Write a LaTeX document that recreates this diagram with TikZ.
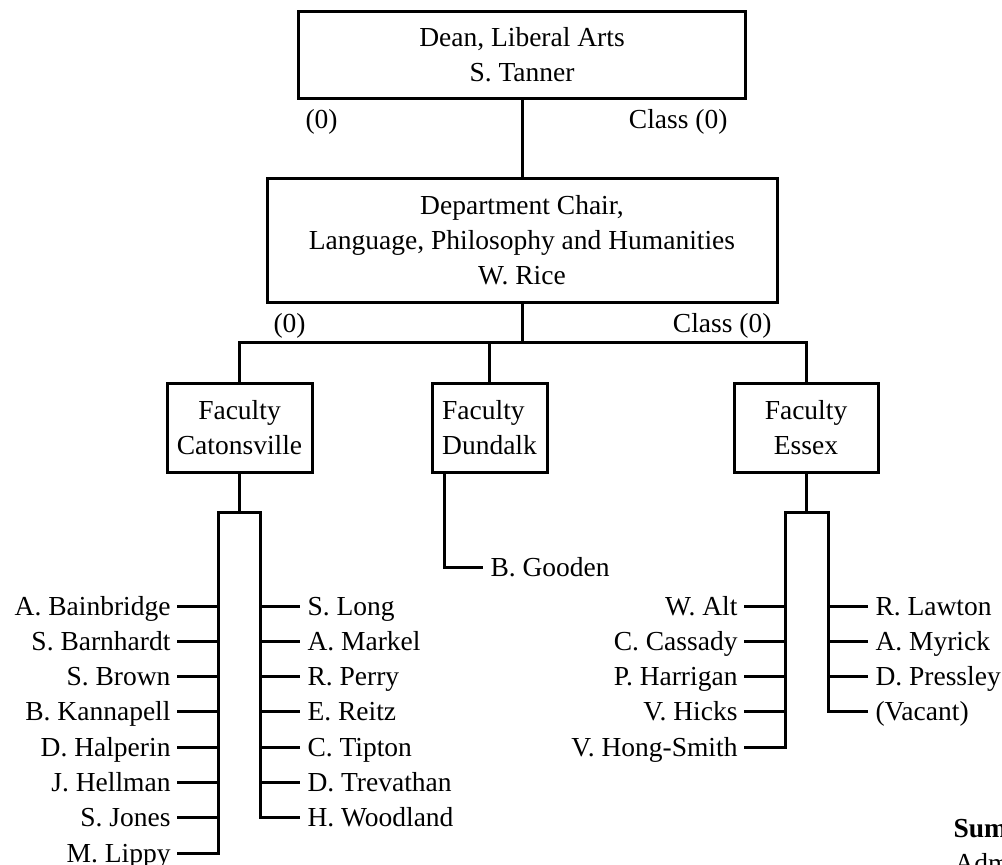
\documentclass[tikz,border=0pt]{standalone}
\usepackage{fontspec}
\setmainfont{Liberation Serif}
\begin{document}
\begin{tikzpicture}[x=1pt,y=-1pt, line width=3pt,
  every node/.style={font=\fontsize{27.5}{35}\selectfont},
  box/.style={draw, line width=3pt, inner sep=0pt, align=center},
  lname/.style={anchor=base east, inner xsep=5pt, inner ysep=0pt, yshift=-9pt},
  rname/.style={anchor=base west, inner xsep=6pt, inner ysep=0pt, yshift=-9pt},
  lbl/.style={inner sep=0pt}
]
\useasboundingbox (0,0) rectangle (1002,865);

% boxes
\node[box, minimum width=447pt, minimum height=87pt] (dean) at (522,54.5) {Dean, Liberal Arts\\S. Tanner};
\node[box, minimum width=510pt, minimum height=124pt] (dept) at (522,240) {Department Chair,\\Language, Philosophy and Humanities\\W. Rice};
\node[box, minimum width=145pt, minimum height=89pt] (cat) at (239.5,427.5) {Faculty\\Catonsville};
\node[box, align=left, minimum width=115pt, minimum height=89pt] (dun) at (489.5,427.5) {Faculty\\Dundalk};
\node[box, minimum width=144pt, minimum height=89pt] (ess) at (806,427.5) {Faculty\\Essex};

% labels
\node[lbl, anchor=base west] (d0) at (304,128) {(0)};
\node[lbl, anchor=base east] (dc) at (729,128) {Class (0)};
\node[lbl, anchor=base west] (p0) at (272,332) {(0)};
\node[lbl, anchor=base east] (pc) at (773,332) {Class (0)};

% top connectors
\draw (dean.south) -- (dept.north);
\coordinate (bus) at (522,342);
\draw (dept.south) -- (bus);
\draw (cat.north) |- (ess.north |- bus) -- (ess.north);
\draw (dun.north) -- (dun.north |- bus);

% Catonsville
\coordinate (cb) at (239.5,512);
\coordinate (cl) at (218,512);
\coordinate (cr) at (260,512);
\draw (cat.south) -- (cb);
\foreach \n [count=\i from 0] in {A. Bainbridge,S. Barnhardt,S. Brown,B. Kannapell,D. Halperin,J. Hellman,S. Jones,M. Lippy} {
  \coordinate (cL\i) at (218,606+35.3*\i);
  \coordinate (cLt\i) at (177,606+35.3*\i);
  \node[lname] (cLn\i) at (cLt\i) {\n};
}
\foreach \n [count=\i from 0] in {S. Long,A. Markel,R. Perry,E. Reitz,C. Tipton,D. Trevathan,H. Woodland} {
  \coordinate (cR\i) at (260,606+35.3*\i);
  \coordinate (cRt\i) at (300,606+35.3*\i);
  \node[rname] (cRn\i) at (cRt\i) {\n};
}
\foreach \i in {0,...,6} {\draw (cLt\i) -- (cL\i);}
\foreach \i in {0,...,5} {\draw (cR\i) -- (cRt\i);}
\draw (cLt7) -- (cL7) -- (cl) -- (cr) -- (cR6) -- (cRt6);

% Dundalk
\coordinate (dg) at (444,567);
\coordinate (dgt) at (483,567);
\node[rname] (gooden) at (dgt) {B. Gooden};
\draw ([xshift=-45.5pt]dun.south) -- (dg) -- (dgt);

% Essex
\coordinate (eb) at (806,512);
\coordinate (el) at (785,512);
\coordinate (er) at (828,512);
\draw (ess.south) -- (eb);
\foreach \n [count=\i from 0] in {W. Alt,C. Cassady,P. Harrigan,V. Hicks,V. Hong-Smith} {
  \coordinate (eL\i) at (785,606+35.3*\i);
  \coordinate (eLt\i) at (744,606+35.3*\i);
  \node[lname] (eLn\i) at (eLt\i) {\n};
}
\foreach \n [count=\i from 0] in {R. Lawton,A. Myrick,D. Pressley,(Vacant)} {
  \coordinate (eR\i) at (828,606+35.3*\i);
  \coordinate (eRt\i) at (868,606+35.3*\i);
  \node[rname] (eRn\i) at (eRt\i) {\n};
}
\foreach \i in {0,...,3} {\draw (eLt\i) -- (eL\i);}
\foreach \i in {0,...,2} {\draw (eR\i) -- (eRt\i);}
\draw (eLt4) -- (eL4) -- (el) -- (er) -- (eR3) -- (eRt3);

% cut-off summary text
\node[lbl, anchor=base west, font=\fontsize{27.5}{35}\selectfont\bfseries] (sum) at (952,837) {Sum};
\node[lbl, anchor=base west] (adm) at (953,872) {Adm};
\end{tikzpicture}
\end{document}
